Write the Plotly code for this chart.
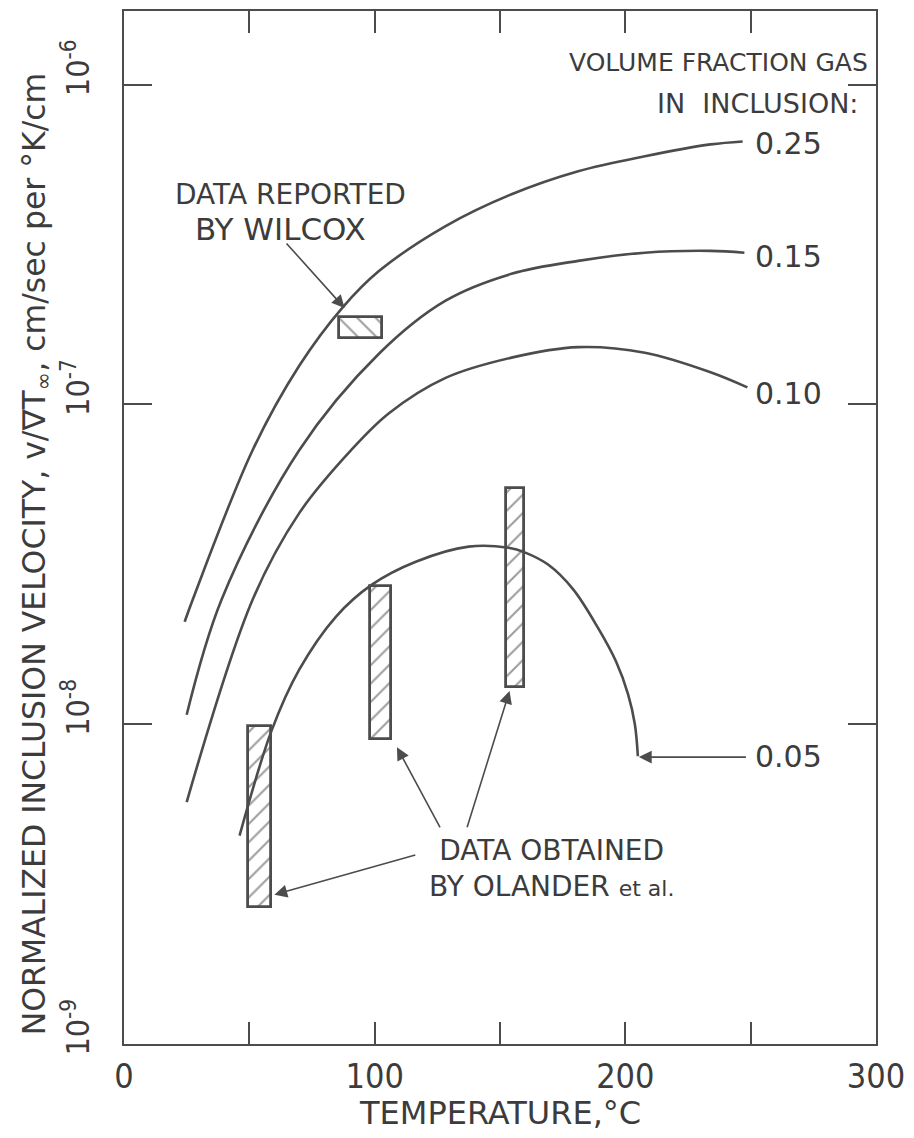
import math
import plotly.graph_objects as go

# ---- data (temperature in deg C, velocity in cm/s per K/cm)
T_025 = [24.2, 27.4, 51.3, 69.9, 87.0, 101.7, 128.3, 154.6, 181.2, 207.8, 234.0, 246.8]
V_025 = [2.09e-8, 2.45e-8, 7.19e-8, 1.32e-7, 2.00e-7, 2.61e-7, 3.61e-7, 4.54e-7, 5.36e-7, 5.97e-7, 6.50e-7, 6.64e-7]

T_015 = [25.0, 38.9, 69.9, 101.7, 128.3, 154.6, 181.2, 207.8, 234.0, 247.5]
V_015 = [1.07e-8, 2.45e-8, 7.19e-8, 1.44e-7, 2.11e-7, 2.56e-7, 2.81e-7, 2.98e-7, 3.02e-7, 2.98e-7]

T_010 = [25.0, 51.3, 69.9, 90.6, 105.7, 128.3, 154.6, 181.2, 207.8, 234.0, 248.7]
V_010 = [5.71e-9, 2.45e-8, 4.57e-8, 7.19e-8, 9.38e-8, 1.21e-7, 1.40e-7, 1.51e-7, 1.45e-7, 1.26e-7, 1.13e-7]

T_005 = [46.1, 58.8, 69.9, 84.6, 98.9, 116.4, 137.5, 153.4, 160.1, 169.3, 179.2, 189.1, 196.3, 201.1, 203.8, 205.0]
V_005 = [4.48e-9, 9.51e-9, 1.48e-8, 2.17e-8, 2.73e-8, 3.22e-8, 3.59e-8, 3.56e-8, 3.44e-8, 3.15e-8, 2.64e-8, 2.00e-8, 1.57e-8, 1.24e-8, 1.00e-8, 7.94e-9]

curve_labels = ["0.25", "0.15", "0.10", "0.05"]
label_V = [6.55e-7, 2.89e-7, 1.08e-7, 7.94e-9]
label_T = 251.1

# Olander et al. data ranges (hatched bars)
OL_T_lo = [49.3, 98.1, 152.2]
OL_T_hi = [58.8, 106.5, 159.7]
OL_V_lo = [2.69e-9, 8.97e-9, 1.31e-8]
OL_V_hi = [9.87e-9, 2.71e-8, 5.47e-8]

# Wilcox data range
WI_T_lo = [85.8]
WI_T_hi = [102.9]
WI_V_lo = [1.61e-7]
WI_V_hi = [1.88e-7]

x_tickvals = [0, 100, 200, 300]
x_ticktext = ["0", "100", "200", "300"]
x_minor_ticks = [50, 150, 250]
y_tickvals = [1e-9, 1e-8, 1e-7, 1e-6]
y_ticktext = ["10<sup>-9</sup>", "10<sup>-8</sup>", "10<sup>-7</sup>", "10<sup>-6</sup>"]

INK = "#3c3c3c"
LINE = "#4c4c4c"
FONT = "DejaVu Sans Condensed, DejaVu Sans, sans-serif"
FONT2 = "DejaVu Sans, sans-serif"

fig = go.Figure()

for T, V in [(T_025, V_025), (T_015, V_015), (T_010, V_010), (T_005, V_005)]:
    fig.add_trace(go.Scatter(x=T, y=V, mode="lines",
                             line=dict(color=LINE, width=2.6, shape="spline", smoothing=1.0),
                             showlegend=False, hoverinfo="skip"))


def add_bars(tlo, thi, vlo, vhi, hatch):
    fig.add_trace(go.Bar(
        x=[(a + b) / 2 for a, b in zip(tlo, thi)],
        width=[b - a for a, b in zip(tlo, thi)],
        base=vlo,
        y=[h - l for l, h in zip(vlo, vhi)],
        marker=dict(color="white",
                    line=dict(color=LINE, width=2.8),
                    pattern=dict(shape=hatch, fgcolor=INK, bgcolor="white",
                                 size=13, solidity=0.16)),
        showlegend=False, hoverinfo="skip"))


add_bars(OL_T_lo, OL_T_hi, OL_V_lo, OL_V_hi, "/")
add_bars(WI_T_lo, WI_T_hi, WI_V_lo, WI_V_hi, "\\")

lg = math.log10
ann = []

# curve labels
for txt, v in zip(curve_labels, label_V):
    ann.append(dict(x=label_T, y=lg(v), xref="x", yref="y", text=txt, showarrow=False,
                    xanchor="left", yanchor="middle", font=dict(size=30, family=FONT2, color=INK)))

ann.append(dict(x=297.5, y=lg(1.17e-6), xref="x", yref="y", text="VOLUME FRACTION GAS",
                showarrow=False, xanchor="right", yanchor="middle",
                font=dict(size=25, family=FONT2, color=INK)))
ann.append(dict(x=293.6, y=lg(8.73e-7), xref="x", yref="y", text="IN  INCLUSION:",
                showarrow=False, xanchor="right", yanchor="middle",
                font=dict(size=27, family=FONT2, color=INK)))
ann.append(dict(x=66.4, y=lg(4.52e-7), xref="x", yref="y", text="DATA REPORTED",
                showarrow=False, xanchor="center", yanchor="middle",
                font=dict(size=28, family=FONT2, color=INK)))
ann.append(dict(x=62.5, y=lg(3.53e-7), xref="x", yref="y", text="BY WILCOX",
                showarrow=False, xanchor="center", yanchor="middle",
                font=dict(size=31, family=FONT2, color=INK)))
ann.append(dict(x=170.5, y=lg(3.55e-9), xref="x", yref="y",
                text="DATA OBTAINED<br>BY OLANDER <span style='font-size:22px'>et al.</span>",
                showarrow=False, xanchor="center", yanchor="middle",
                font=dict(size=28, family=FONT2, color=INK)))

# arrows: (tail T, tail V, tip T, tip V)
arrows = [
    (64.3, 3.22e-7, 88.0, 2.00e-7),
    (116.8, 3.91e-9, 60.0, 2.93e-9),
    (126.4, 4.71e-9, 108.9, 8.47e-9),
    (136.7, 4.71e-9, 153.8, 1.27e-8),
    (248.7, 7.89e-9, 205.4, 7.89e-9),
]
for t0, v0, t1, v1 in arrows:
    ann.append(dict(x=t1, y=lg(v1), ax=t0, ay=lg(v0), xref="x", yref="y", axref="x", ayref="y",
                    text="", showarrow=True, arrowhead=2, arrowsize=1.6, arrowwidth=1.6,
                    arrowcolor=LINE))

# axis titles
ann.append(dict(x=0.5, y=0, xref="paper", yref="paper", text="TEMPERATURE,°C",
                showarrow=False, xanchor="center", yanchor="top", yshift=-48,
                font=dict(size=32, family=FONT2, color=INK)))
ann.append(dict(x=0, y=0.474, xref="paper", yref="paper",
                text="NORMALIZED INCLUSION VELOCITY, v/\u2207T<sub>\u221e</sub>, cm/sec per °K/cm",
                showarrow=False, xanchor="center", yanchor="middle", xshift=-88, textangle=-90,
                font=dict(size=31.5, family=FONT2, color=INK)))

fig.update_layout(
    width=914, height=1138,
    margin=dict(l=124, r=35, t=9, b=94),
    paper_bgcolor="white", plot_bgcolor="white",
    barmode="overlay", bargap=0,
    annotations=ann,
    xaxis=dict(range=[0, 300], tickvals=x_tickvals, ticktext=x_ticktext,
               ticks="inside", ticklen=22, tickwidth=1.6, tickcolor=LINE,
               minor=dict(tickvals=x_minor_ticks, ticks="inside", ticklen=22, tickwidth=1.6,
                          tickcolor=LINE, showgrid=False),
               showline=True, linewidth=2.2, linecolor=LINE, mirror="ticks",
               showgrid=False, zeroline=False, ticklabelstandoff=1,
               tickfont=dict(size=34, family=FONT, color=INK)),
    yaxis=dict(type="log", range=[-9, -5.77], tickvals=y_tickvals, ticktext=y_ticktext,
               tickangle=-90, ticks="inside", ticklen=28, tickwidth=1.6, tickcolor=LINE,
               showline=True, linewidth=2.2, linecolor=LINE, mirror="ticks",
               showgrid=False, zeroline=False, ticklabelstandoff=20, ticklabelshift=-12,
               tickfont=dict(size=32, family=FONT, color=INK)),
)

fig.write_html("out.html")
